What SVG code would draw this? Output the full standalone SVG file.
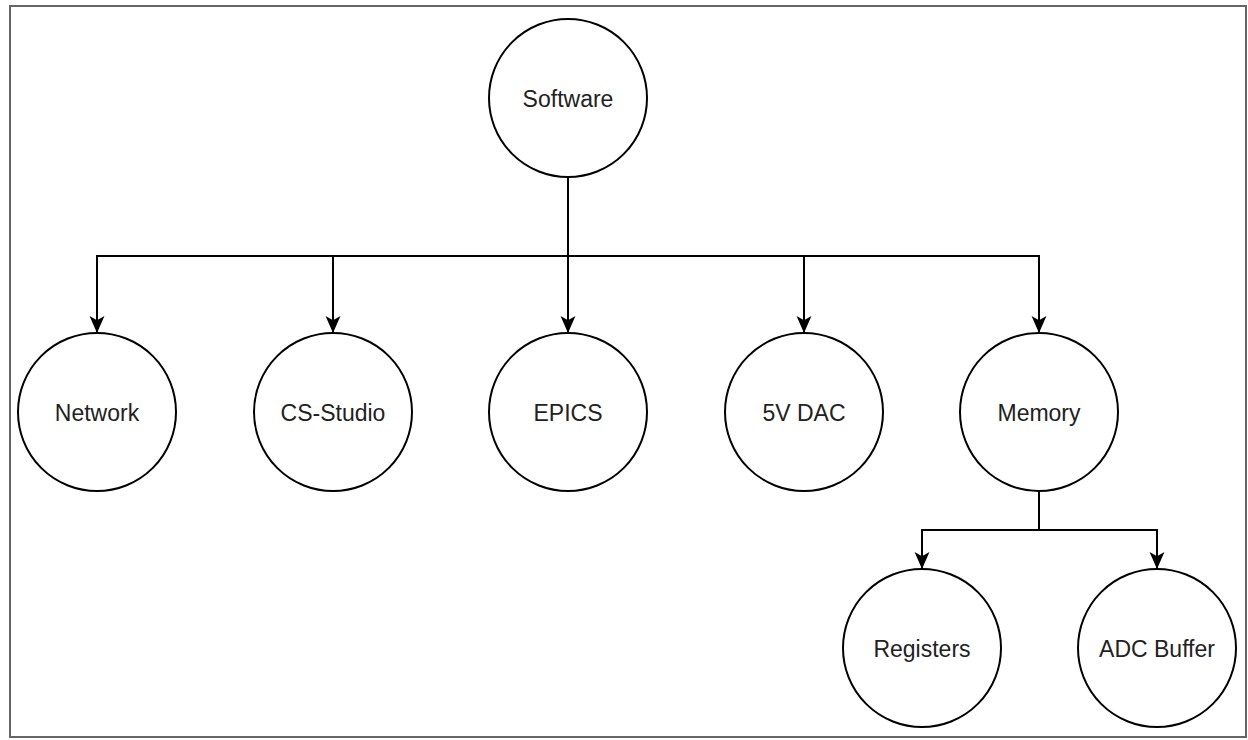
<svg xmlns="http://www.w3.org/2000/svg" width="1248" height="740" viewBox="0 0 1248 740">
<style>
.node circle{fill:#fff;stroke:#000;stroke-width:2}
.node text{font-family:"Liberation Sans",Arial,sans-serif;font-size:23px;fill:#222;text-anchor:middle}
.edge{fill:none;stroke:#000;stroke-width:2}
</style>
<defs>
<marker id="arr" markerUnits="userSpaceOnUse" viewBox="0 0 16 16" refX="15" refY="8" markerWidth="17" markerHeight="17" orient="auto">
<path d="M0,1 L16,8 L0,15 L4,8 Z" fill="#000"/>
</marker>
</defs>
<rect x="0" y="0" width="1248" height="740" fill="#fff"/>
<rect x="10" y="6" width="1236" height="731" fill="none" stroke="#666" stroke-width="2"/>
<g id="connectors">
<path class="edge" d="M568,177 V256 H97 V332" marker-end="url(#arr)"/>
<path class="edge" d="M568,256 H333 V332" marker-end="url(#arr)"/>
<path class="edge" d="M568,256 V332" marker-end="url(#arr)"/>
<path class="edge" d="M568,256 H804 V332" marker-end="url(#arr)"/>
<path class="edge" d="M568,256 H1039 V332" marker-end="url(#arr)"/>
<path class="edge" d="M1039,491 V530 H922 V568" marker-end="url(#arr)"/>
<path class="edge" d="M1039,530 H1157 V568" marker-end="url(#arr)"/>
</g>
<g id="software" class="node"><circle cx="568" cy="98" r="79"/><text x="568" y="107">Software</text></g>
<g id="network" class="node"><circle cx="97" cy="412" r="79"/><text x="97" y="421">Network</text></g>
<g id="cs-studio" class="node"><circle cx="333" cy="412" r="79"/><text x="333" y="421">CS-Studio</text></g>
<g id="epics" class="node"><circle cx="568" cy="412" r="79"/><text x="568" y="421">EPICS</text></g>
<g id="dac" class="node"><circle cx="804" cy="412" r="79"/><text x="804" y="421">5V DAC</text></g>
<g id="memory" class="node"><circle cx="1039" cy="412" r="79"/><text x="1039" y="421">Memory</text></g>
<g id="registers" class="node"><circle cx="922" cy="648" r="79"/><text x="922" y="657">Registers</text></g>
<g id="adc-buffer" class="node"><circle cx="1157" cy="648" r="79"/><text x="1157" y="657">ADC Buffer</text></g>
</svg>
